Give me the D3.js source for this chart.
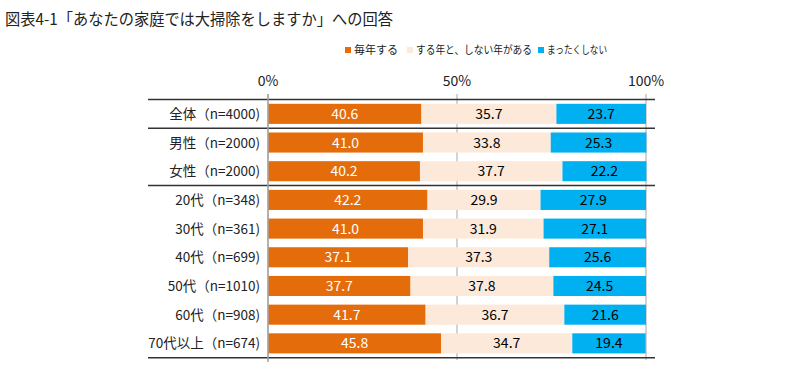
<!DOCTYPE html>
<html><head><meta charset="utf-8">
<script src="https://cdn.jsdelivr.net/npm/d3@7"></script>
<style>
body{margin:0;background:#fff;}
text{font-family:"Noto Sans CJK JP","Noto Sans",sans-serif;}
</style></head>
<body><svg id="c" width="808" height="378"></svg>
<script>
const title = "図表4-1「あなたの家庭では大掃除をしますか」への回答";
const categories = ["全体（n=4000)","男性（n=2000)","女性（n=2000)","20代（n=348)","30代（n=361)","40代（n=699)","50代（n=1010)","60代（n=908)","70代以上（n=674)"];
const seriesNames = ["毎年する","する年と、しない年がある","まったくしない"];
const every = [40.6,41.0,40.2,42.2,41.0,37.1,37.7,41.7,45.8];
const sometimes = [35.7,33.8,37.7,29.9,31.9,37.3,37.8,36.7,34.7];
const never = [23.7,25.3,22.2,27.9,27.1,25.6,24.5,21.6,19.4];
const ticks = [0,50,100];
const colors = ["#E46C0A","#FDE9D9","#00B0F0"];
const textColors = ["#fff","#000","#000"];

const svg = d3.select("#c");
svg.append("text").attr("x",5).attr("y",25).attr("font-size",15.5).attr("fill","#222")
  .attr("textLength",388).attr("lengthAdjust","spacingAndGlyphs").text(title);

const x = d3.scaleLinear().domain([0,100]).range([268,646]);
const y = d3.scaleBand().domain(categories).range([99.5,357.7]).paddingInner(0.3).paddingOuter(0.15);

// legend
const legX = [345,407,538];
const legW = [44,116,60];
seriesNames.forEach((s,i)=>{
  svg.append("rect").attr("x",legX[i]).attr("y",47).attr("width",6).attr("height",6).attr("fill",colors[i]);
  svg.append("text").attr("x",legX[i]+9).attr("y",54).attr("font-size",11).attr("fill","#222")
    .attr("textLength",legW[i]).attr("lengthAdjust","spacingAndGlyphs").text(s);
});

// gridlines
const g = svg.append("g");
g.selectAll("line.grid").data(ticks).join("line")
  .attr("x1",d=>x(d)).attr("x2",d=>x(d)).attr("y1",94).attr("y2",360)
  .attr("stroke","#a6a6a6").attr("stroke-width",1);
g.selectAll("text.tick").data(ticks).join("text")
  .attr("x",d=>x(d)).attr("y",86).attr("text-anchor","middle").attr("font-size",14).attr("fill","#222")
  .text(d=>d+"%");

// bars
const data = categories.map((c,i)=>({c, v:[every[i],sometimes[i],never[i]]}));
data.forEach(d=>{
  let acc=0;
  d.v.forEach((v,j)=>{
    svg.append("rect").attr("x",x(acc)).attr("y",y(d.c)).attr("width",x(acc+v)-x(acc)).attr("height",y.bandwidth()).attr("fill",colors[j]);
    svg.append("text").attr("x",(x(acc)+x(acc+v))/2).attr("y",y(d.c)+y.bandwidth()/2+5)
      .attr("text-anchor","middle").attr("font-size",14).attr("fill",textColors[j]).text(v.toFixed(1));
    acc+=v;
  });
  svg.append("text").attr("x",260).attr("y",y(d.c)+y.bandwidth()/2+5).attr("text-anchor","end")
    .attr("font-size",13.5).attr("fill","#222").text(d.c);
});

// separator lines
const seps = [99.5, (y(categories[0])+y.bandwidth()+y(categories[1]))/2, (y(categories[2])+y.bandwidth()+y(categories[3]))/2, 357.7];
seps.forEach((s,i)=>{
  svg.append("line").attr("x1",148).attr("x2",655).attr("y1",s).attr("y2",s).attr("stroke","#333").attr("stroke-width",1.5);
});
// axis line at 0
svg.append("line").attr("x1",x(0)).attr("x2",x(0)).attr("y1",94).attr("y2",362).attr("stroke","#a6a6a6").attr("stroke-width",1.5);
</script></body></html>
